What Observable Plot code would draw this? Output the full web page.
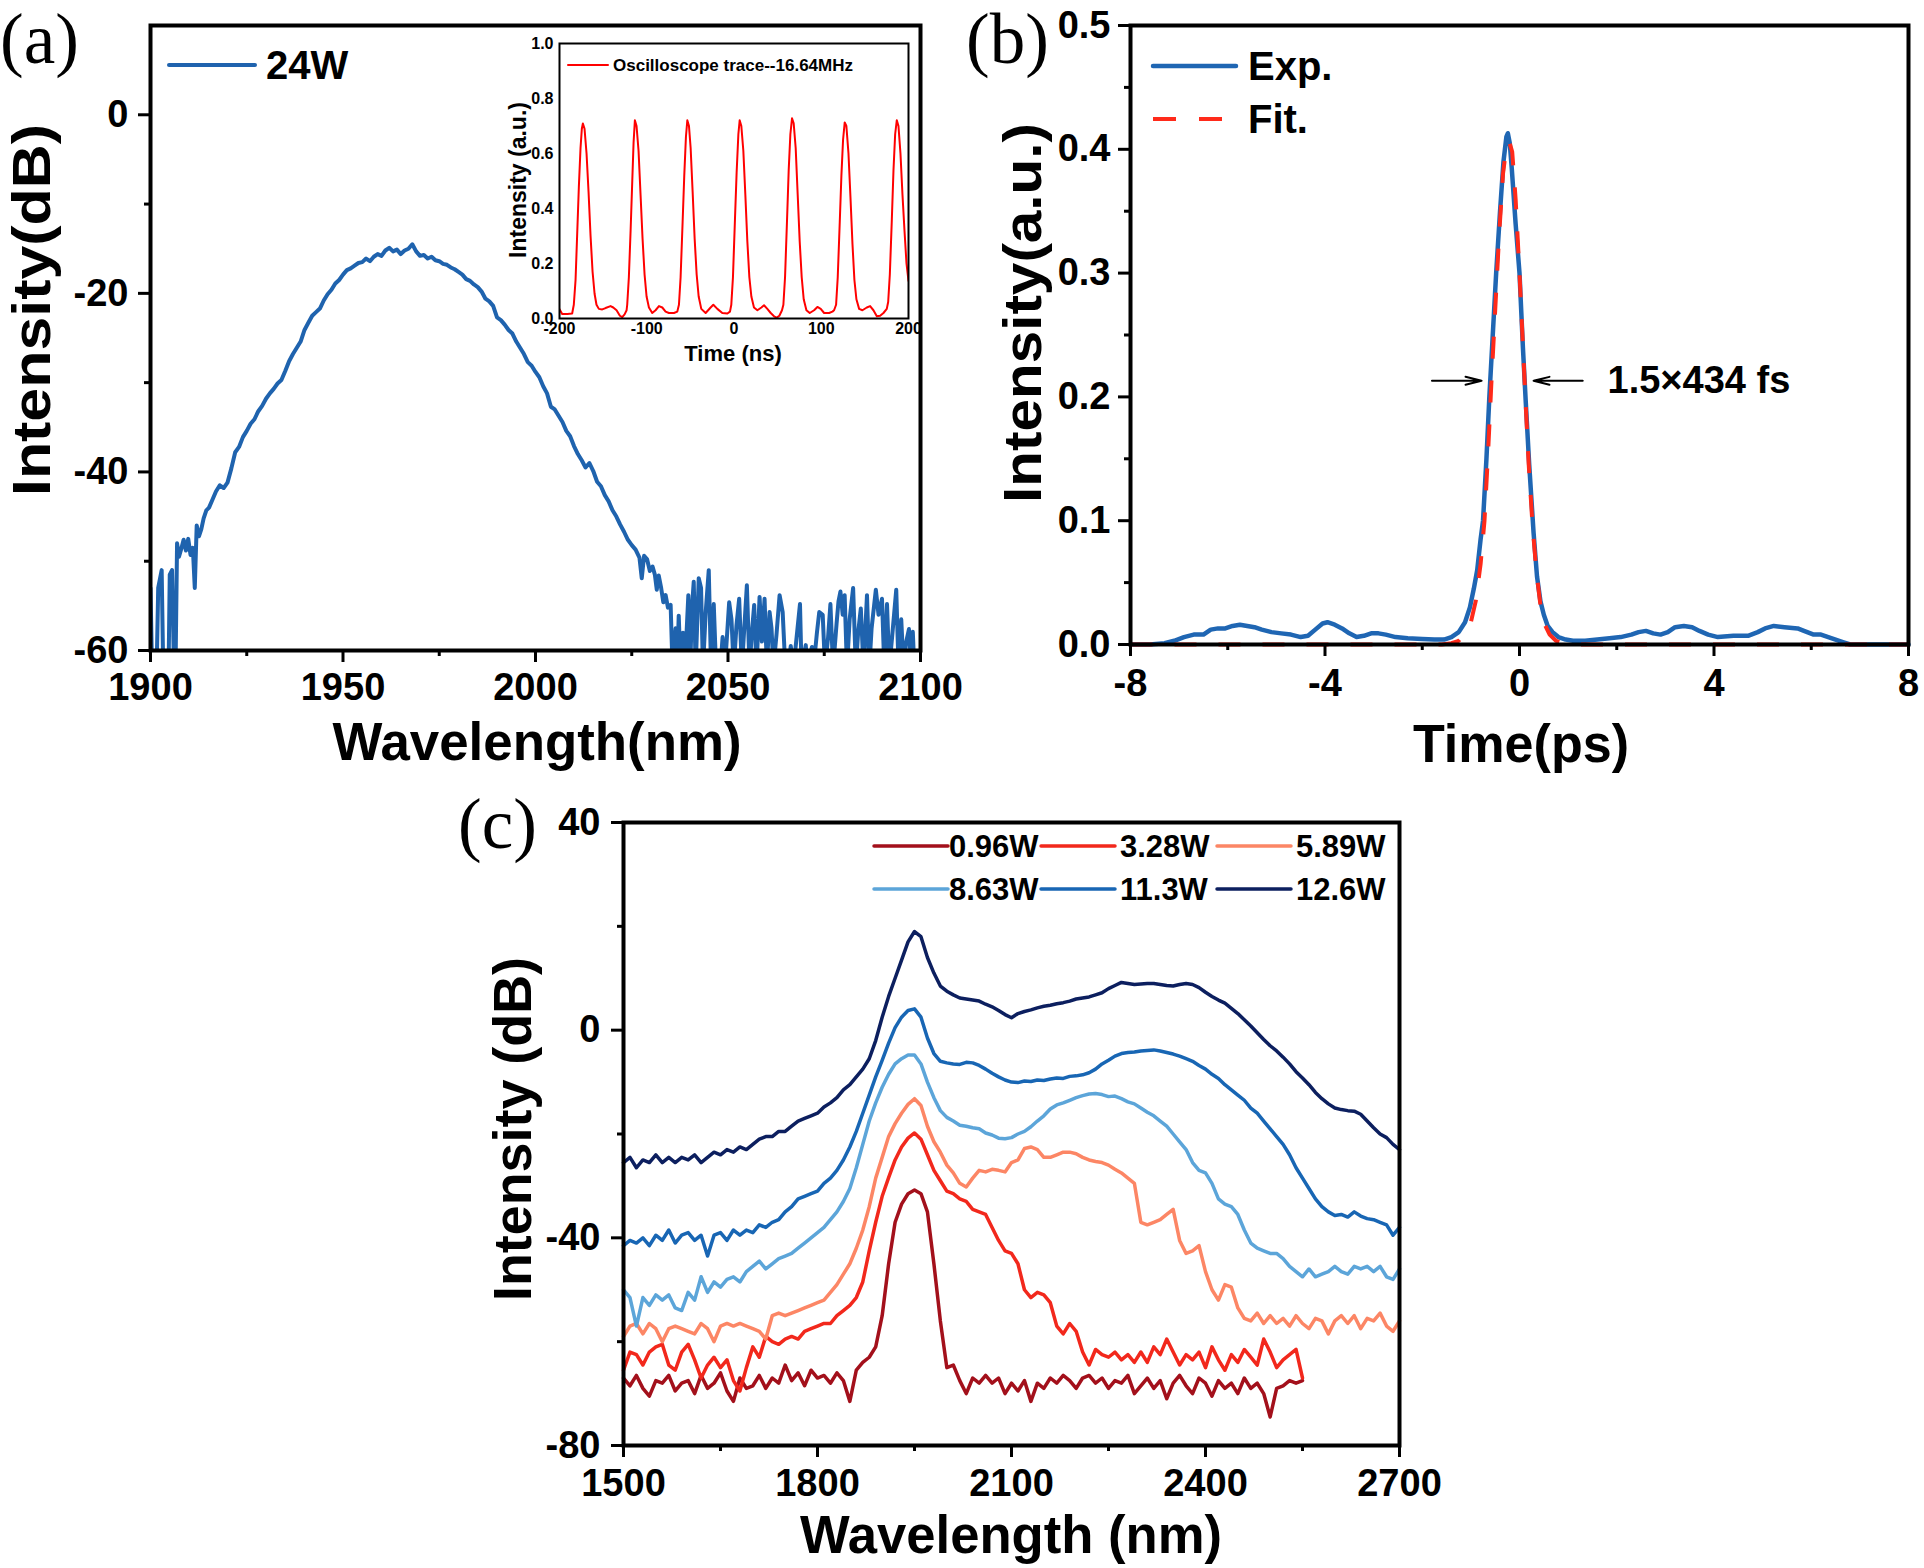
<!DOCTYPE html>
<html>
<head>
<meta charset="utf-8">
<script src="https://cdn.jsdelivr.net/npm/d3@7"></script>
<script src="https://cdn.jsdelivr.net/npm/@observablehq/plot@0.6"></script>
<style>
  html, body { margin: 0; padding: 0; background: #fff; }
  #fig { position: relative; width: 1924px; height: 1568px; overflow: hidden; background: #fff; }
</style>
</head>
<body>
<div id="fig"></div>
<script>
// ---------------- (a) output spectrum at 24 W : [wavelength nm, intensity dB] ----------------
const spectrum24W = [
  [1900.0,-53],[1900.4,-62],[1901.6,-62],[1902.0,-53],[1902.9,-51],[1903.3,-62],[1904.7,-62],[1905.0,-51.5],
  [1905.6,-51],[1906.1,-62],[1906.5,-62],[1906.9,-48],[1907.4,-49.5],[1908.0,-48.6],[1908.6,-47.6],[1909.2,-48.8],
  [1909.8,-47.5],[1910.4,-49.3],[1911.0,-48.5],[1911.5,-53],[1912.0,-46],[1912.6,-47.2],[1913.2,-46.4],[1913.8,-45.2],
  [1914.5,-44.3],[1915.2,-44],[1916,-43.2],[1917,-42.2],[1918,-41.5],[1919,-41.8],[1920,-41.2],[1921,-39.6],
  [1922,-37.8],[1923,-37.2],[1924,-36.1],[1925,-35.4],[1926,-34.6],[1927,-34.1],[1928,-33.2],[1929,-32.6],
  [1930,-31.8],[1931,-31.2],[1932,-30.7],[1933,-30.1],[1934,-29.7],[1935,-28.7],[1936,-27.6],[1937,-26.8],
  [1938,-26.1],[1939,-25.4],[1940,-24.1],[1941,-23.3],[1942,-22.5],[1943,-22.1],[1944,-21.7],[1945,-20.8],
  [1946,-20.1],[1947,-19.6],[1948,-18.9],[1949,-18.5],[1950,-17.9],[1951,-17.4],[1952,-17.2],[1953,-16.9],
  [1954,-16.6],[1955,-16.5],[1956,-16.1],[1957,-16.4],[1958,-15.9],[1959,-15.6],[1960,-15.8],[1961,-15.2],
  [1962,-14.9],[1963,-15.3],[1964,-15.1],[1965,-15.6],[1966,-15.2],[1967,-15.0],[1968,-14.5],[1969,-15.3],
  [1970,-15.8],[1971,-15.7],[1972,-16.1],[1973,-15.9],[1974,-16.3],[1975,-16.4],[1976,-16.7],[1977,-16.8],
  [1978,-17.1],[1979,-17.3],[1980,-17.6],[1981,-17.9],[1982,-18.4],[1983,-18.6],[1984,-19.0],[1985,-19.3],
  [1986,-19.8],[1987,-20.6],[1988,-20.9],[1989,-21.4],[1990,-22.7],[1991,-23.0],[1992,-23.5],[1993,-24.1],
  [1994,-24.5],[1995,-25.4],[1996,-26.1],[1997,-26.8],[1998,-27.7],[1999,-28.1],[2000,-28.8],[2001,-29.4],
  [2002,-30.4],[2003,-31.2],[2004,-32.7],[2005,-33.0],[2006,-33.7],[2007,-34.4],[2008,-35.4],[2009,-36.0],
  [2010,-37.1],[2011,-38.0],[2012,-38.7],[2013,-39.5],[2014,-39.0],[2015,-39.9],[2016,-41.1],[2017,-41.6],
  [2018,-42.6],[2019,-43.3],[2020,-44.3],[2021,-45.0],[2022,-45.9],[2023,-46.7],[2024,-47.6],[2025,-48.2],
  [2026,-48.7],[2027,-49.6],[2027.6,-51.9],[2028.2,-49.4],[2029,-49.8],[2029.7,-51.1],[2030.4,-50.6],[2031,-51.5],
  [2031.5,-53.2],[2032,-51.6],[2032.6,-52.9],[2033.2,-54.6],[2033.8,-53.8],[2034.4,-55.2],
  [2035.1,-54.9],[2035.6,-62],[2036.4,-57.5],[2036.8,-62],[2037.2,-56.1],[2037.7,-62],[2038.3,-58],[2038.8,-62],
  [2039.7,-53.8],[2040.2,-62],[2040.6,-55.5],[2041.1,-52.3],[2041.6,-62],[2042.4,-51.9],[2043.0,-53.0],[2043.5,-62],
  [2044.2,-55.8],[2045.0,-51.0],[2045.6,-62],[2046.3,-54.8],[2046.9,-62],[2048.0,-62],[2048.6,-58.5],[2049.2,-62],
  [2050.3,-54.6],[2050.9,-56.5],[2051.5,-62],[2052.2,-57.2],[2052.9,-54.2],[2053.6,-62],[2054.3,-57],[2054.9,-52.7],
  [2055.6,-62],[2056.2,-58],[2056.8,-54.9],[2057.4,-62],[2058.2,-54.0],[2058.8,-59],[2059.5,-54.2],[2060.1,-62],
  [2060.8,-55.7],[2061.3,-57.5],[2061.8,-62],[2062.6,-58.2],[2063.4,-53.8],[2064.2,-55.7],[2064.9,-62],[2065.6,-62],
  [2066.3,-59.5],[2067,-62],[2068.7,-54.8],[2069.1,-62],[2070.2,-59.4],[2070.6,-62],[2071.8,-59.6],[2072.2,-62],
  [2073.1,-58],[2073.7,-55.7],[2074.6,-56.0],[2075.2,-62],[2076.0,-58.5],[2076.6,-54.8],[2077.3,-62],[2078.2,-57],
  [2078.7,-54.5],[2079.2,-53.4],[2079.8,-56],[2080.3,-53.8],[2080.9,-62],[2081.6,-56.5],[2082.5,-53.0],[2083.2,-62],
  [2083.8,-58],[2084.5,-55.3],[2085.2,-62],[2086.1,-53.8],[2086.7,-62],[2087.3,-57.5],[2088.4,-53.2],[2089.1,-56.0],
  [2090.0,-54.2],[2090.6,-62],[2091.3,-54.8],[2091.9,-62],[2092.6,-58.6],[2093.7,-53.2],[2094.3,-62],[2095.0,-56.5],
  [2095.6,-62],[2096.3,-59],[2097.0,-57.6],[2097.6,-62],[2098.0,-57.9],[2098.4,-62]
];
const aXTicks = [1900, 1950, 2000, 2050, 2100];
const aXMinor = [1925, 1975, 2025, 2075];
const aYTicks = [0, -20, -40, -60];
const aYMinor = [-10, -30, -50];

// ---------------- (a, inset) oscilloscope pulse train : [time ns, intensity a.u.] ----------------
const scopeTrace = [
  [-200,0.034],[-196.9,0.016],[-191,0.016],[-185.5,0.018],
  [-183.6,0.05],[-181.6,0.14],[-179.7,0.31],[-177.8,0.48],[-175.9,0.62],[-174.4,0.69],[-173.2,0.709],[-171.3,0.69],
  [-169,0.60],[-166.7,0.46],[-164.4,0.30],[-162.1,0.17],[-159.8,0.09],[-157.6,0.05],[-154.9,0.035],[-151,0.033],
  [-147.2,0.038],[-141.5,0.045],[-138.4,0.04],[-134.6,0.03],[-130.8,0.01],[-128.1,0.005],[-125.4,0.015],[-123.1,0.03],
  [-122.4,0.05],[-120.5,0.15],[-118.5,0.32],[-116.6,0.5],[-115.1,0.64],[-113.6,0.721],[-111.7,0.70],[-109.4,0.61],
  [-107.1,0.45],[-104.8,0.29],[-102.5,0.16],[-100.2,0.08],[-97.5,0.04],[-93.7,0.02],[-89.9,0.03],[-86,0.045],
  [-82.2,0.04],[-78.4,0.025],[-74.6,0.02],[-68.8,0.02],[-65,0.025],
  [-63.1,0.05],[-61.2,0.15],[-58.9,0.35],[-57,0.52],[-55.1,0.66],[-53.5,0.721],[-51.6,0.70],[-49.7,0.62],
  [-47.4,0.46],[-45.1,0.29],[-42.8,0.16],[-40.5,0.08],[-37.5,0.035],[-32.5,0.02],[-26.8,0.04],[-23.7,0.05],
  [-19.1,0.035],[-13.4,0.02],[-7.6,0.018],[-4.6,0.025],
  [-3.1,0.05],[-1.2,0.15],[1.1,0.36],[3.0,0.53],[5.0,0.67],[6.5,0.721],[8.4,0.70],[10.7,0.61],[13,0.45],
  [15.3,0.28],[17.6,0.15],[19.9,0.08],[22.9,0.04],[26.8,0.03],[31.4,0.04],[34.4,0.048],[38.2,0.035],[42.1,0.02],
  [45.9,0.008],[49,0.003],[52,0.01],[55,0.03],
  [56.6,0.05],[58.5,0.15],[60.8,0.36],[62.7,0.54],[64.6,0.67],[66.5,0.728],[68.4,0.71],[70.7,0.62],[73,0.45],
  [75.3,0.28],[77.6,0.15],[79.9,0.07],[83,0.03],[86.8,0.02],[91.8,0.03],[95.6,0.042],[99.4,0.035],[103.3,0.02],
  [109,0.02],[112.8,0.025],[114.7,0.03],
  [117,0.05],[118.9,0.15],[121.2,0.35],[123.1,0.52],[125,0.65],[126.9,0.713],[128.8,0.70],[131.2,0.60],[133.5,0.44],
  [135.8,0.27],[138,0.14],[140.3,0.07],[143.4,0.035],[147.2,0.03],[152.2,0.04],[156,0.045],[159.8,0.03],[163.7,0.008],
  [167.5,0.01],[171.3,0.02],[175.1,0.035],
  [176.7,0.06],[178.6,0.16],[180.9,0.36],[182.8,0.54],[184.7,0.67],[186.6,0.721],[188.5,0.70],[190.8,0.60],
  [193.1,0.45],[195.4,0.32],[197.7,0.20],[200,0.137]
];
const insetXTicks = [-200, -100, 0, 100, 200];
const insetYTicks = [0, 0.2, 0.4, 0.6, 0.8, 1.0];

// ---------------- (b) autocorrelation trace : [delay ps, intensity a.u.] ----------------
const autoExp = [
  [-8,0],[-7.6,0],[-7.3,0.001],[-7.1,0.003],[-6.9,0.006],[-6.7,0.008],[-6.5,0.008],[-6.35,0.012],[-6.2,0.013],
  [-6.05,0.013],[-5.9,0.015],[-5.75,0.016],[-5.6,0.015],[-5.45,0.014],[-5.3,0.012],[-5.1,0.010],[-4.9,0.009],
  [-4.7,0.008],[-4.5,0.006],[-4.35,0.007],[-4.2,0.012],[-4.05,0.017],[-3.95,0.018],[-3.8,0.016],[-3.65,0.013],
  [-3.5,0.009],[-3.35,0.006],[-3.2,0.007],[-3.05,0.009],[-2.9,0.009],[-2.75,0.008],[-2.55,0.006],[-2.3,0.005],
  [-2.0,0.0045],[-1.75,0.004],[-1.55,0.004],[-1.4,0.006],[-1.25,0.010],[-1.12,0.018],[-1.02,0.030],[-0.94,0.045],
  [-0.87,0.060],[-0.80,0.085],[-0.75,0.100],[-0.68,0.150],[-0.62,0.200],[-0.55,0.250],[-0.48,0.300],[-0.40,0.350],
  [-0.33,0.390],[-0.27,0.410],[-0.24,0.413],[-0.20,0.405],[-0.16,0.385],[-0.08,0.340],[0.00,0.300],[0.07,0.240],
  [0.13,0.195],[0.20,0.145],[0.29,0.090],[0.36,0.055],[0.43,0.035],[0.50,0.024],[0.58,0.015],[0.68,0.010],
  [0.80,0.006],[0.95,0.004],[1.10,0.003],[1.35,0.003],[1.6,0.004],[1.85,0.005],[2.08,0.006],[2.3,0.008],
  [2.45,0.010],[2.6,0.011],[2.75,0.009],[2.9,0.008],[3.05,0.010],[3.2,0.014],[3.38,0.015],[3.55,0.014],
  [3.7,0.011],[3.88,0.008],[4.08,0.006],[4.4,0.007],[4.7,0.007],[4.9,0.010],[5.05,0.013],[5.23,0.015],
  [5.45,0.014],[5.72,0.013],[5.85,0.011],[6.05,0.008],[6.2,0.008],[6.35,0.006],[6.5,0.004],[6.65,0.002],
  [6.8,0],[8,0]
];
const autoFit = [
  [-8,0],[-1.6,0],[-1.4,0.001],[-1.25,0.003],[-1.1,0.010],[-1.0,0.018],[-0.9,0.035],[-0.8,0.065],[-0.72,0.10],
  [-0.64,0.16],[-0.58,0.21],[-0.5,0.27],[-0.42,0.33],[-0.34,0.38],[-0.27,0.402],[-0.21,0.406],[-0.15,0.398],
  [-0.08,0.36],[0,0.30],[0.06,0.25],[0.12,0.20],[0.19,0.145],[0.27,0.095],[0.35,0.058],[0.43,0.032],[0.52,0.016],
  [0.62,0.008],[0.75,0.003],[0.9,0.001],[1.1,0],[8,0]
];
const bXTicks = [-8, -4, 0, 4, 8];
const bXMinor = [-6, -2, 2, 6];
const bYTicks = [0, 0.1, 0.2, 0.3, 0.4, 0.5];
const bYMinor = [0.05, 0.15, 0.25, 0.35, 0.45];
// width markers at half maximum
const fwhmArrows = [
  {from: -1.8, to: -0.78, level: 0.213},
  {from: 1.3, to: 0.29, level: 0.213}
];
const fwhmNote = [{t: 1.81, level: 0.213, label: "1.5×434 fs"}];

// ---------------- (c) spectra vs pump power : intensity dB on a 10 nm grid ----------------
const cWavelength = [
  1500,1510,1520,1530,1540,1550,1560,1570,1580,1590,1600,1610,1620,1630,1640,1650,1660,1670,1680,1690,
  1700,1710,1720,1730,1740,1750,1760,1770,1780,1790,1800,1810,1820,1830,1840,1850,1860,1870,1880,1890,
  1900,1910,1920,1930,1940,1950,1960,1970,1980,1990,2000,2010,2020,2030,2040,2050,2060,2070,2080,2090,
  2100,2110,2120,2130,2140,2150,2160,2170,2180,2190,2200,2210,2220,2230,2240,2250,2260,2270,2280,2290,
  2300,2310,2320,2330,2340,2350,2360,2370,2380,2390,2400,2410,2420,2430,2440,2450,2460,2470,2480,2490,
  2500,2510,2520,2530,2540,2550,2560,2570,2580,2590,2600,2610,2620,2630,2640,2650,2660,2670,2680,2690,
  2700
];
const p096W = [
  -67,-68.5,-66.5,-69,-70.5,-67.5,-68,-66.5,-69.5,-68,
  -67.5,-70,-66.5,-69,-68,-66,-69.5,-71.5,-67,-69,
  -68.5,-66.5,-69,-67,-68,-64.5,-67.5,-66,-68.5,-65.5,
  -67,-66.5,-68,-66,-67.5,-71.5,-65.5,-64,-63,-61,
  -55,-45,-37,-33.5,-31.5,-30.8,-31.5,-35,-45,-56,
  -65,-64.5,-67.5,-70,-67,-68,-66.5,-68,-67,-70,
  -68,-69.5,-67.5,-71.5,-68,-69,-67,-68,-66.5,-67.5,
  -69,-67,-66.5,-68,-67,-69,-67.5,-68,-66.5,-70,
  -68.5,-67,-69,-67.5,-71,-68,-66.5,-68.5,-70,-67,
  -68,-70.5,-67.5,-69,-68,-70,-67,-69,-68,-70,
  -74.5,-69,-68.5,-67.5,-68,-67.5
];
const p328W = [
  -65.5,-62,-62.5,-64.5,-62,-61,-60.5,-64.5,-65.5,-62,
  -60.5,-63.5,-67,-64.5,-63,-65,-63.5,-67.5,-69.5,-65,
  -61,-63,-59,-60,-60.5,-59.5,-59,-59.5,-58,-57.5,
  -57,-56.5,-56.5,-55,-54,-53,-51.5,-48.5,-42.5,-37,
  -32,-28.4,-25,-22.5,-20.8,-19.8,-21,-24,-27,-29,
  -31,-31.5,-32.5,-33,-34.5,-35,-35.5,-38,-40.5,-42.5,
  -43,-45,-50,-51.5,-50.5,-51,-52.5,-57,-58.5,-56.5,
  -58,-62,-64.5,-61.5,-62.5,-63,-62,-63.5,-62.5,-64,
  -62,-64,-61,-62.5,-59.5,-62,-64.5,-62.5,-63.5,-62,
  -65,-61,-63.5,-65.5,-62.5,-64,-61.5,-63,-64.5,-59.5,
  -62,-65,-63.5,-62.5,-61.5,-67
];
const p589W = [
  -59,-57,-56.5,-58.5,-56.5,-57.5,-60,-57.5,-57,-57.5,
  -58,-58.5,-56.5,-57.5,-60,-57,-56.5,-57,-56.5,-57,
  -57.5,-58,-59.5,-55,-54.5,-55,-54.5,-54,-53.5,-53,
  -52.5,-52,-50.5,-49,-47,-45,-42,-38.5,-34,-28.5,
  -24.5,-20.5,-18,-16,-14.3,-13.2,-14.5,-18.5,-21.5,-23.5,
  -26,-27.5,-29.5,-30.2,-28.5,-27,-27.3,-26.8,-27,-27.3,
  -25.5,-25,-22.8,-22.5,-23,-24.5,-24.5,-24,-23.5,-23.5,
  -23.8,-24.5,-25,-25.3,-25.5,-26,-26.8,-27.5,-28.5,-29.5,
  -37,-37.5,-37,-36.5,-35.5,-34.5,-40.5,-43,-42.5,-41.5,
  -46.5,-50,-52,-49,-49.5,-53.5,-55.5,-56,-54.5,-56.5,
  -55,-56.5,-55.5,-57,-55,-56.5,-57.5,-55.5,-56,-58.5,
  -56,-55,-56.5,-55,-57.5,-55.5,-56,-54.5,-57,-58,
  -56
];
const p863W = [
  -50,-51.5,-57,-51.5,-53,-51,-52,-51,-53.5,-54,
  -50.5,-52,-47.5,-50.5,-48.5,-49.5,-48,-47.5,-48.5,-46.5,
  -45.5,-44.5,-46,-45,-44,-43.5,-43,-42,-41,-40,
  -39,-38,-36.5,-35,-33,-30.5,-26.5,-22,-17.5,-14,
  -11,-8.5,-6.5,-5.5,-4.8,-4.8,-6.5,-10,-13,-15.5,
  -16.8,-17.5,-18.3,-18.5,-18.8,-19,-19.8,-20.2,-20.8,-20.9,
  -20.7,-20,-19.5,-18.6,-17.5,-16.5,-15.2,-14.4,-14,-13.5,
  -13,-12.6,-12.3,-12.2,-12.4,-12.8,-12.7,-13.2,-13.8,-14.2,
  -15,-15.8,-16.5,-17.5,-18.5,-20,-21.5,-23,-25.5,-27,
  -27.5,-29.5,-32.5,-33.5,-34,-35.5,-38.5,-41,-42,-42.5,
  -43,-43,-44,-45.5,-46.5,-47.5,-46,-47.5,-47,-46.5,
  -45.5,-46.5,-47,-45.5,-46,-45.5,-46.5,-45.5,-47.5,-48,
  -46
];
const p113W = [
  -41.5,-40.5,-41,-40,-41.5,-39.5,-40.5,-38.5,-41,-39.5,
  -39,-40.5,-39.5,-43.5,-39.5,-39,-40.5,-38.5,-39.5,-38.5,
  -39,-37.5,-38,-37,-36.5,-35,-34,-32.5,-32,-31.5,
  -31,-29.5,-28.5,-27,-25,-22.5,-19.5,-16,-12.5,-9,
  -5.8,-2.5,0.5,2.5,3.8,4.1,2.5,-1.5,-4.5,-6,
  -6.3,-6.5,-6.6,-6.2,-6.3,-6.8,-7.5,-8.3,-9,-9.6,
  -10,-10.1,-9.8,-9.9,-9.6,-9.7,-9.4,-9.2,-9.3,-8.9,
  -8.8,-8.6,-8.2,-7.5,-6.5,-5.8,-5,-4.5,-4.3,-4.2,
  -4,-3.9,-3.8,-4,-4.3,-4.6,-5,-5.5,-6,-6.8,
  -7.5,-8.5,-9.3,-10.5,-11.5,-12.5,-13.5,-15,-16,-17.5,
  -19,-20.5,-22,-24,-26.5,-28.5,-30.5,-32.5,-34,-35,
  -35.7,-35.5,-36,-35,-35.8,-36.3,-36.5,-37,-37.5,-39.5,
  -38
];
const p126W = [
  -25.5,-24.5,-26.5,-25,-25.5,-24,-25.5,-24.5,-25.5,-24.5,
  -25,-24,-25.5,-24.5,-23.5,-24,-23,-23.5,-22.5,-23,
  -22,-21,-20.5,-20.5,-19.5,-19.5,-18.5,-17.5,-17,-16.5,
  -16,-14.8,-14,-13,-11.5,-10.5,-9,-7.5,-5.5,-2,
  2.5,6.5,10,13.5,17,19,18,14,11,8.5,
  7.5,6.8,6.2,6,5.8,5.6,5,4.5,3.8,3,
  2.4,3.2,3.6,3.9,4.3,4.6,4.8,5.1,5.3,5.6,
  6,6.2,6.4,6.8,7.2,8,8.6,9.2,9,8.8,
  8.9,9,9,8.8,8.6,8.5,8.8,9,8.8,8.2,
  7.3,6.5,5.8,5.2,4.2,3.2,2,0.8,-0.5,-1.8,
  -3,-4,-5.2,-6.5,-8,-9.2,-10.5,-12,-13.2,-14.2,
  -15,-15.3,-15.5,-15.6,-16.2,-17.5,-18.8,-20,-20.7,-22,
  -23
];
const powerLabels = ["0.96W", "3.28W", "5.89W", "8.63W", "11.3W", "12.6W"];
const powerValues = [p096W, p328W, p589W, p863W, p113W, p126W];
const powerColors = ["#a3101b", "#f2281c", "#fc8665", "#5ca5d9", "#1866b4", "#0c1f5f"];
const cXTicks = [1500, 1800, 2100, 2400, 2700];
const cXMinor = [1650, 1950, 2250, 2550];
const cYTicks = [40, 0, -40, -80];
const cYMinor = [20, -20, -60];

// ---------------- shared styling ----------------
const SANS = "'Liberation Sans', Arial, Helvetica, sans-serif";
const SERIF = "'Liberation Serif', 'Times New Roman', Times, serif";
const plain = d => String(d);
const oneDecimal = d3.format(".1f");
const fig = document.getElementById("fig");

function place(node, left, top) {
  node.style.position = "absolute";
  node.style.left = left + "px";
  node.style.top = top + "px";
  node.style.overflow = "visible";
  fig.appendChild(node);
}

function baseStyle(size) {
  return {fontFamily: SANS, fontSize: size + "px", fontWeight: "bold", color: "black",
          background: "transparent", overflow: "visible"};
}

// box frame with outward major/minor ticks
function boxAxes(o) {
  const txt = {fontSize: o.size, fontWeight: "bold", fontFamily: SANS};
  const marks = [
    Plot.axisX({ticks: o.xTicks, tickSize: o.tick, tickPadding: o.xPad, strokeWidth: o.tickWidth,
                tickFormat: o.xFormat || plain, label: null, ...txt}),
    Plot.axisY({ticks: o.yTicks, tickSize: o.tick, tickPadding: o.yPad, strokeWidth: o.tickWidth,
                tickFormat: o.yFormat || plain, label: null, ...txt})
  ];
  if (o.xMinor) marks.push(Plot.axisX({ticks: o.xMinor, tickSize: o.minor, strokeWidth: o.tickWidth,
                                       tickFormat: () => "", label: null}));
  if (o.yMinor) marks.push(Plot.axisY({ticks: o.yMinor, tickSize: o.minor, strokeWidth: o.tickWidth,
                                       tickFormat: () => "", label: null}));
  marks.push(Plot.frame({stroke: "black", strokeWidth: o.frame}));
  return marks;
}

// ---------------- panel (a) ----------------
const panelA = Plot.plot({
  width: 960, height: 780,
  marginLeft: 150, marginRight: 40, marginTop: 25, marginBottom: 130,
  x: {domain: [1900, 2100]},
  y: {domain: [-60, 10]},
  style: baseStyle(38),
  marks: [
    Plot.line(spectrum24W, {x: d => d[0], y: d => d[1], stroke: "#1f63ae", strokeWidth: 4, clip: true}),
    ...boxAxes({xTicks: aXTicks, xMinor: aXMinor, yTicks: aYTicks, yMinor: aYMinor,
                size: 38, tick: 12, minor: 6, tickWidth: 3, xPad: 11, yPad: 10, frame: 4})
  ]
});
place(panelA, 0, 0);

// ---------------- panel (a) inset ----------------
const inset = Plot.plot({
  width: 430, height: 350,
  marginLeft: 69, marginRight: 12, marginTop: 23, marginBottom: 52,
  x: {domain: [-200, 200]},
  y: {domain: [0, 1]},
  style: baseStyle(16),
  marks: [
    Plot.line(scopeTrace, {x: d => d[0], y: d => d[1], stroke: "#ff0000", strokeWidth: 2, clip: true}),
    ...boxAxes({xTicks: insetXTicks, yTicks: insetYTicks, yFormat: oneDecimal,
                size: 16, tick: 0, minor: 0, tickWidth: 1.5, xPad: 4, yPad: 6, frame: 2})
  ]
});
place(inset, 490, 20);

// ---------------- panel (b) ----------------
const panelB = Plot.plot({
  width: 954, height: 780,
  marginLeft: 160, marginRight: 16, marginTop: 25, marginBottom: 136,
  x: {domain: [-8, 8]},
  y: {domain: [0, 0.5]},
  style: baseStyle(38),
  marks: [
    Plot.line(autoExp, {x: d => d[0], y: d => d[1], stroke: "#1f66b3", strokeWidth: 4.5}),
    Plot.line(autoFit, {x: d => d[0], y: d => d[1], stroke: "#ff2a1a", strokeWidth: 4,
                        strokeDasharray: "22,22", strokeLinecap: "butt"}),
    Plot.arrow(fwhmArrows, {x1: "from", x2: "to", y1: "level", y2: "level", stroke: "black",
                            strokeWidth: 2, headLength: 16, headAngle: 28}),
    Plot.text(fwhmNote, {x: "t", y: "level", text: "label", textAnchor: "start", fontSize: 38,
                         fontWeight: "bold", fill: "black"}),
    ...boxAxes({xTicks: bXTicks, xMinor: bXMinor, yTicks: bYTicks, yMinor: bYMinor, yFormat: oneDecimal,
                size: 38, tick: 12, minor: 6, tickWidth: 3, xPad: 13, yPad: 8, frame: 4})
  ]
});
place(panelB, 970, 0);

// ---------------- panel (c) ----------------
const cLines = powerValues.map((vals, k) =>
  Plot.line(vals.map((v, i) => ({wl: cWavelength[i], db: v})),
            {x: "wl", y: "db", stroke: powerColors[k], strokeWidth: 3.5})
);
const panelC = Plot.plot({
  width: 1000, height: 788,
  marginLeft: 173, marginRight: 51, marginTop: 42, marginBottom: 123,
  x: {domain: [1500, 2700]},
  y: {domain: [-80, 40]},
  style: baseStyle(38),
  marks: [
    ...cLines,
    ...boxAxes({xTicks: cXTicks, xMinor: cXMinor, yTicks: cYTicks, yMinor: cYMinor,
                size: 38, tick: 12, minor: 6, tickWidth: 3, xPad: 12, yPad: 11, frame: 4})
  ]
});
place(panelC, 450, 780);

// ---------------- titles, legends and panel letters ----------------
const over = d3.create("svg")
  .attr("width", 1924).attr("height", 1568)
  .style("position", "absolute").style("left", "0px").style("top", "0px")
  .style("pointer-events", "none");

function label(t) {
  const g = over.append("g").attr("transform",
    `translate(${t.x},${t.y})` + (t.rotate ? " rotate(-90)" : ""));
  const el = g.append("text")
    .attr("font-family", t.family || SANS)
    .attr("font-weight", t.weight || "bold")
    .attr("font-size", t.size)
    .attr("text-anchor", t.anchor || "middle")
    .attr("dominant-baseline", t.baseline || "central")
    .attr("fill", "black")
    .text(t.text);
  if (t.length) el.attr("textLength", t.length).attr("lengthAdjust", "spacingAndGlyphs");
}
function swatch(x1, x2, y, color, width, dash) {
  const l = over.append("line").attr("x1", x1).attr("x2", x2).attr("y1", y).attr("y2", y)
    .attr("stroke", color).attr("stroke-width", width)
    .attr("stroke-linecap", dash ? "butt" : "round");
  if (dash) l.attr("stroke-dasharray", dash);
}

// axis titles
label({text: "Wavelength(nm)", x: 537, y: 741, size: 53, length: 409});
label({text: "Intensity(dB)", x: 31, y: 310, size: 54, rotate: true, length: 372});
label({text: "Time(ps)", x: 1521, y: 743, size: 53, length: 216});
label({text: "Intensity(a.u.)", x: 1022, y: 313, size: 54, rotate: true, length: 380});
label({text: "Wavelength (nm)", x: 1011, y: 1534, size: 53, length: 422});
label({text: "Intensity (dB)", x: 512, y: 1129, size: 54, rotate: true, length: 344});
label({text: "Time (ns)", x: 733, y: 353, size: 22});
label({text: "Intensity (a.u.)", x: 518, y: 180, size: 23, rotate: true});

// panel letters
label({text: "(a)", x: 0, y: 63, size: 71, family: SERIF, weight: "normal", anchor: "start", baseline: "alphabetic"});
label({text: "(b)", x: 966, y: 63, size: 71, family: SERIF, weight: "normal", anchor: "start", baseline: "alphabetic"});
label({text: "(c)", x: 458, y: 848, size: 71, family: SERIF, weight: "normal", anchor: "start", baseline: "alphabetic"});

// legend (a)
swatch(169, 255, 65, "#1f63ae", 4);
label({text: "24W", x: 266, y: 65, size: 40, anchor: "start"});
// legend (a) inset
swatch(568, 608, 65, "#ff0000", 2);
label({text: "Oscilloscope trace--16.64MHz", x: 613, y: 65, size: 17, anchor: "start"});
// legend (b)
swatch(1153, 1236, 66, "#1f66b3", 4.5);
label({text: "Exp.", x: 1248, y: 66, size: 40, anchor: "start"});
swatch(1153, 1224, 119, "#ff2a1a", 4, "23,23");
label({text: "Fit.", x: 1248, y: 119, size: 40, anchor: "start"});
// legend (c): two rows of three
const legendCols = [[874, 948, 949], [1041, 1115, 1120], [1217, 1291, 1296]];
const legendRows = [846, 889];
powerLabels.forEach((name, k) => {
  const col = legendCols[k % 3], row = legendRows[Math.floor(k / 3)];
  swatch(col[0], col[1], row, powerColors[k], 3.5);
  label({text: name, x: col[2], y: row, size: 31, anchor: "start"});
});

fig.appendChild(over.node());
</script>
</body>
</html>
